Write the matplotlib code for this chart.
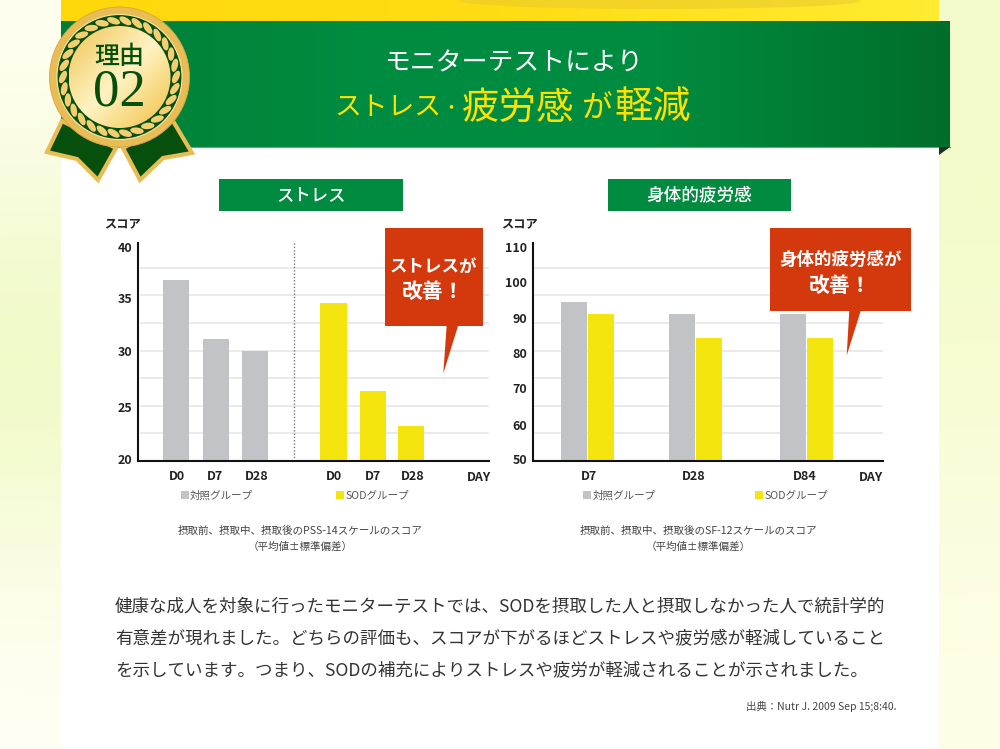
"""Monitor test panel: stress and physical fatigue scores, SOD group vs control."""

import matplotlib
import matplotlib.pyplot as plt
import numpy as np
from matplotlib.colors import LinearSegmentedColormap, to_rgb
from matplotlib.patches import Circle, Ellipse, Polygon, Rectangle

matplotlib.use("Agg")

plt.rcParams["font.family"] = ["Noto Sans CJK JP", "DejaVu Sans"]

# left chart
STRESS_DAYS = ["D0", "D7", "D28", "D0", "D7", "D28"]
STRESS_CONTROL = [36.5, 31.1, 30.0]
STRESS_SOD = [34.4, 26.4, 23.2]
STRESS_TICKS = [20, 25, 30, 35, 40]

# right chart
FATIGUE_DAYS = ["D7", "D28", "D84"]
FATIGUE_CONTROL = [94.1, 90.8, 90.8]
FATIGUE_SOD = [90.8, 84.1, 84.1]
FATIGUE_TICKS = [50, 60, 70, 80, 90, 100, 110]

BODY_LINES = [
    "健康な成人を対象に行ったモニターテストでは、SODを摂取した人と摂取しなかった人で統計学的",
    "有意差が現れました。どちらの評価も、スコアが下がるほどストレスや疲労感が軽減していること",
    "を示しています。つまり、SODの補充によりストレスや疲労が軽減されることが示されました。",
]

W, H = 1000, 749
GREY = "#c2c3c7"
YELLOW = "#f3e50d"
GRID = "#e6e6e8"
INK = "#222222"
TEXT = "#333333"
GREEN = "#008b40"
RED = "#d4380d"
DARK_GREEN = "#064f0c"
GOLD = "#e9bd55"


def h_gradient(ax, x0, x1, y0, y1, colors, zorder=1):
    cmap = LinearSegmentedColormap.from_list("g", colors)
    return ax.imshow(np.linspace(0, 1, 256)[None, :], cmap=cmap, aspect="auto",
                     extent=(x0, x1, y1, y0), zorder=zorder)


def chart_axes(fig, x0, x1, y_top, y_bottom, ymin, ymax):
    ax = fig.add_axes((x0 / W, 1 - y_bottom / H, (x1 - x0) / W, (y_bottom - y_top) / H), zorder=1)
    ax.patch.set_alpha(0)
    ax.set_xlim(x0, x1)
    ax.set_ylim(ymin, ymax)
    ax.set_yticks([])
    ax.spines[["top", "right"]].set_visible(False)
    ax.spines[["left", "bottom"]].set_linewidth(1.5)
    ax.spines[["left", "bottom"]].set_color("#111111")
    ax.tick_params(axis="x", length=0, pad=6.5, labelsize=9, labelcolor=INK)
    # rules sit at a fixed pitch, independent of the value scale
    for k in range(1, 8):
        f = k * 27.6 / (y_bottom - y_top)
        ax.plot([0.008, 1], [f, f], transform=ax.transAxes, color=GRID, lw=1.2, zorder=0)
    return ax


def background(ax):
    rows = [
        ["#fffff2", "#f3fbcc"],
        ["#f5fbd6", "#f3fbca"],
        ["#eefac2", "#f7fcd2"],
        ["#f8fcdc", "#fcfde0"],
        ["#fffff4", "#fffde6"],
    ]
    img = np.array([[to_rgb(c) for c in r] for r in rows])
    ax.imshow(img, extent=(0, W, H, 0), aspect="auto", interpolation="bicubic", zorder=0)
    ax.add_patch(Rectangle((61, 0), 878, H, fc="white", ec="none", zorder=1))


def header(ax):
    h_gradient(ax, 61, 939, 0, 21, ["#ffd80c", "#ffdc14", "#ffec30"], zorder=2)
    ax.add_patch(Ellipse((660, 1), 400, 16, fc="#e8c92f", ec="none", alpha=0.55, zorder=2))
    h_gradient(ax, 61, 950, 21, 147, ["#007e36", "#008c40", "#008c40", "#006e2b"], zorder=3)
    ax.plot([61, 950], [147.3, 147.3], color="#4fb374", lw=0.8, zorder=3)
    ax.add_patch(Polygon([(939, 147), (950, 147), (939, 155)], fc="#17381f", ec="none", zorder=3))

    ax.text(513, 63, "モニターテストにより", color="white", fontsize=18.6, ha="center",
            va="center", zorder=4)
    parts = [
        (388, "ストレス", 19.3), (450.5, "･", 16), (518, "疲労感", 27),
        (596, "が", 22), (653, "軽減", 27.5),
    ]
    for x, s, size in parts:
        ax.text(x, 108, s, color="#ffe100", fontsize=size, ha="center", va="center", zorder=4)


def medal(ax):
    cx, cy = 119.5, 77
    for pts in ([(62, 121), (47, 152), (77, 159), (98, 180), (116, 148)],
                [(173, 121), (192, 153), (163, 158), (140, 180), (123, 148)]):
        ax.add_patch(Polygon(pts, fc=DARK_GREEN, ec=GOLD, lw=3, joinstyle="miter", zorder=5))

    ax.add_patch(Circle((cx, cy), 70, fc=GOLD, ec="#d9a63f", lw=0.6, zorder=6))
    ax.add_patch(Circle((cx, cy), 62.5, fc=DARK_GREEN, ec="#fbe7a5", lw=0.8, zorder=7))
    for a in np.linspace(0, 2 * np.pi, 30, endpoint=False):
        ax.add_patch(Ellipse((cx + 56.5 * np.cos(a), cy + 56.5 * np.sin(a)), 13.5, 6.4,
                             angle=np.degrees(a) + 90 + 25, fc="#f3cf72", ec="none", zorder=8))

    cmap = LinearSegmentedColormap.from_list(
        "gold", ["#f2c658", "#f7dc8c", "#fff3c4", "#f8d981", "#efc04f"])
    yy, xx = np.mgrid[0:1:64j, 0:1:64j]
    disc = ax.imshow(xx * 0.5 + yy * 0.5, cmap=cmap, extent=(cx - 51, cx + 51, cy + 51, cy - 51),
                     aspect="auto", zorder=9)
    disc.set_clip_path(Circle((cx, cy), 51, transform=ax.transData))

    ax.text(cx - 0.5, 57, "理由", color=DARK_GREEN, fontsize=18, ha="center", va="center",
            fontweight="medium", zorder=10)
    ax.text(cx, 93, "02", color=DARK_GREEN, fontsize=38, ha="center", va="center",
            family="Liberation Serif", zorder=10)


def callout(ax, x0, x1, y0, y1, tail, lines):
    ax.add_patch(Rectangle((x0, y0), x1 - x0, y1 - y0, fc=RED, ec="none", zorder=3))
    ax.add_patch(Polygon(tail, fc=RED, ec="none", zorder=3))
    for s, y, size in lines:
        ax.text((x0 + x1) / 2, y, s, color="white", fontsize=size, fontweight="bold",
                ha="center", va="center", zorder=4)


def chart_texts(ax, score_x, ticks, tick_x, tick_y, day_x, caption_x, legend, note):
    ax.text(score_x, 224, "スコア", color=INK, fontsize=8.8, fontweight="bold",
            ha="center", va="center", zorder=4)
    # the printed labels do not follow the rules exactly
    for t, y in zip(ticks, tick_y):
        ax.text(tick_x, y, str(t), color=INK, fontsize=9, fontweight="bold", ha="right",
                va="center", zorder=4)
    ax.text(day_x, 477.5, "DAY", color=INK, fontsize=9, fontweight="bold", ha="center",
            va="center", zorder=4)
    gx, gt, sx, st = legend
    ax.add_patch(Rectangle((gx, 490.5), 8, 8, fc=GREY, ec="none", zorder=4))
    ax.add_patch(Rectangle((sx, 490.5), 8, 8, fc=YELLOW, ec="none", zorder=4))
    ax.text(gt, 495, "対照グループ", color="#555555", fontsize=7.6, va="center", zorder=4)
    ax.text(st, 495, "SODグループ", color="#555555", fontsize=7.6, va="center", zorder=4)
    ax.text(caption_x, 531, note, color="#444444", fontsize=7.6, ha="center", va="center", zorder=4)
    ax.text(caption_x, 547, "（平均値±標準偏差）", color="#444444", fontsize=7.6, ha="center",
            va="center", zorder=4)


def main():
    fig = plt.figure(figsize=(W / 100, H / 100), dpi=100)

    bg = fig.add_axes((0, 0, 1, 1), zorder=0)
    background(bg)
    header(bg)
    bg.add_patch(Rectangle((219, 179), 184, 31.5, fc=GREEN, ec="none", zorder=3))
    bg.add_patch(Rectangle((608, 179), 183, 31.5, fc=GREEN, ec="none", zorder=3))
    bg.text(311, 195.5, "ストレス", color="white", fontsize=12.5, fontweight="medium",
            ha="center", va="center", zorder=4)
    bg.text(699.5, 195.5, "身体的疲労感", color="white", fontsize=12.7, fontweight="medium",
            ha="center", va="center", zorder=4)
    for i, line in enumerate(BODY_LINES):
        bg.text(115, 606.5 + i * 32, line, color=TEXT, fontsize=12.61, va="center", zorder=4)
    bg.text(896, 706.5, "出典：Nutr J. 2009 Sep 15;8:40.", color="#444444", fontsize=7.5,
            ha="right", va="center", zorder=4)
    bg.set_xlim(0, W)
    bg.set_ylim(H, 0)
    bg.axis("off")

    # stress
    ax1 = chart_axes(fig, 138, 489, 243, 461, 20, 20 + 218 / 11)
    ctrl_x = [176.3, 215.8, 255.3]
    sod_x = [333.3, 372.8, 411.2]
    ax1.bar(ctrl_x, np.array(STRESS_CONTROL) - 20, bottom=20, width=26, color=GREY, zorder=2)
    ax1.bar(sod_x, np.array(STRESS_SOD) - 20, bottom=20, width=26.5, color=YELLOW, zorder=2)
    ax1.plot([294, 294], [20, 20 + 218 / 11], color="#777777", lw=1, ls=(0, (1, 1.4)), zorder=1)
    ax1.set_xticks([176.7, 215, 257, 333.7, 373, 412.7], STRESS_DAYS, fontweight="bold")

    # physical fatigue
    ax2 = chart_axes(fig, 532.5, 883, 243, 461, 50, 50 + 218 / 3.6)
    ctrl_x = [573.7, 681.5, 793]
    sod_x = [601, 709, 820]
    ax2.bar(ctrl_x, np.array(FATIGUE_CONTROL) - 50, bottom=50, width=26, color=GREY, zorder=2)
    ax2.bar(sod_x, np.array(FATIGUE_SOD) - 50, bottom=50, width=26, color=YELLOW, zorder=2)
    ax2.set_xticks([589, 694, 805], FATIGUE_DAYS, fontweight="bold")

    fg = fig.add_axes((0, 0, 1, 1), zorder=2)
    fg.patch.set_alpha(0)
    medal(fg)
    callout(fg, 384.5, 482.5, 228, 326, [(446.7, 325), (458.3, 325), (443.3, 373.5)],
            [("ストレスが", 266.5, 12.6), ("改善！", 292, 15)])
    callout(fg, 770, 910.5, 228, 310.5, [(849.3, 310), (861, 310), (846.7, 355.5)],
            [("身体的疲労感が", 260, 12.6), ("改善！", 285, 15)])
    chart_texts(fg, 122.5, STRESS_TICKS, 132, [460.5, 408.5, 352.5, 299.5, 248.5], 479, 300,
                (180.5, 190, 336, 345.5), "摂取前、摂取中、摂取後のPSS-14スケールのスコア")
    chart_texts(fg, 519.5, FATIGUE_TICKS, 527, [460.5, 426.5, 389.5, 354.5, 319.5, 283.5, 248.5],
                871.5, 698.5, (583, 592.5, 755, 764), "摂取前、摂取中、摂取後のSF-12スケールのスコア")
    fg.set_xlim(0, W)
    fg.set_ylim(H, 0)
    fg.axis("off")

    fig.savefig("out.png", dpi=100)
    plt.close(fig)


if __name__ == "__main__":
    main()
